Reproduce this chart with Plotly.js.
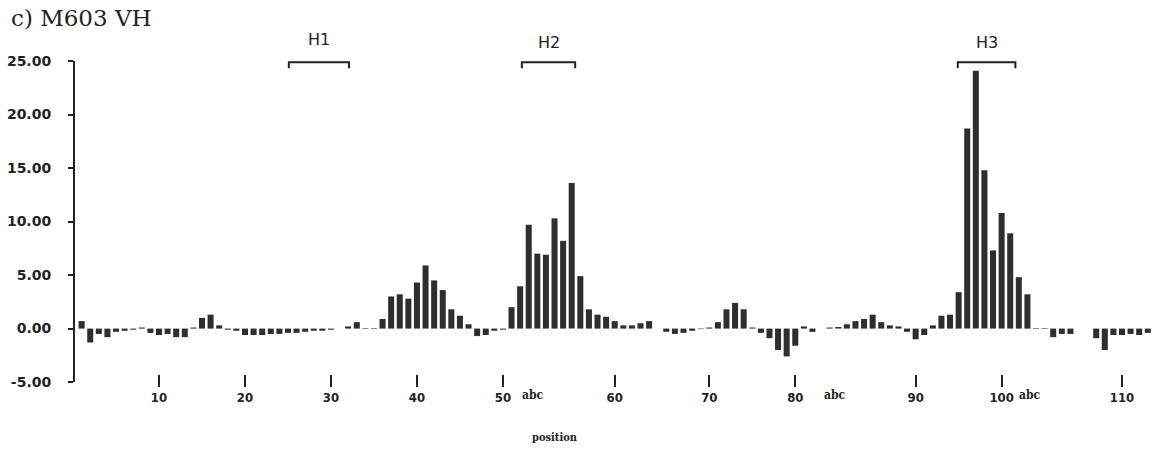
<!DOCTYPE html>
<html>
<head>
<meta charset="utf-8">
<script src="https://cdn.plot.ly/plotly-3.0.1.min.js"></script>
<style>html,body{margin:0;padding:0;background:#fff;}#chart{width:1172px;height:460px;}</style>
</head>
<body>
<div id="chart"></div>
<script>
// Residue positions (Kabat numbering); "" marks a break in the plotted sequence
const residues = [
  '1','2','3','4','5','6','7','8','9','10',
  '11','12','13','14','15','16','17','18','19','20',
  '21','22','23','24','25','26','27','28','29','30',
  '31','32','33','34','35','36','37','38','39','40',
  '41','42','43','44','45','46','47','48','49','50',
  '51','52','52a','52b','52c','53','54','55','56','57','58','59','60',
  '61','62','63','64','','65','66','67','68','69','70',
  '71','72','73','74','75','76','77','78','79','80',
  '81','82','','82a','82b','82c','83','84','85','86','87','88','89','90',
  '91','92','93','94','95','96','97','98','99','100','100a','100b','100c',
  '101','102','103','104','105','','106','107','108','109','110','111','112','113'
];
// Values (null = no bar)
const values = [
  0.7,-1.3,-0.5,-0.8,-0.3,-0.2,-0.1,0.1,-0.4,-0.6,
  -0.5,-0.8,-0.8,0.1,1.0,1.3,0.3,-0.1,-0.2,-0.6,
  -0.6,-0.6,-0.5,-0.5,-0.4,-0.4,-0.3,-0.2,-0.2,-0.1,
  null,0.2,0.6,0.05,0.05,0.9,3.0,3.2,2.8,4.3,
  5.9,4.5,3.6,1.8,1.2,0.4,-0.7,-0.6,-0.2,-0.1,
  2.0,3.95,9.7,7.0,6.9,10.3,8.2,13.6,4.9,1.8,1.3,1.1,0.7,
  0.3,0.3,0.5,0.7,null,-0.3,-0.5,-0.4,-0.2,-0.05,0.1,
  0.6,1.8,2.4,1.8,0.1,-0.4,-0.9,-2.0,-2.6,-1.6,
  0.2,-0.3,null,0.1,0.15,0.4,0.7,0.9,1.3,0.6,0.3,0.2,-0.3,-1.0,
  -0.6,0.3,1.2,1.3,3.4,18.7,24.1,14.8,7.3,10.8,8.9,4.8,3.2,
  0.05,0.05,-0.8,-0.5,-0.5,null,null,-0.9,-2.0,-0.6,-0.6,-0.5,-0.6,-0.4
];
const tickResidues = ['10','20','30','40','50','60','70','80','90','100','110'];
const insertionMarks = ['52b','82b','100b'];
const yTicks = [-5,0,5,10,15,20,25];
const regionNames = ['H1','H2','H3'];

const idx = residues.map((r,i)=>i);
const tickvals = tickResidues.map(r=>residues.indexOf(r));

const trace = {
  type:'bar', x: idx, y: values,
  marker:{color:'#2e2e2e'},
  hoverinfo:'skip'
};

// bracket extents (axis units) for the hypervariable regions
const spans = [[24.1,31.1],[51.2,57.4],[101.9,108.6]];
const abcShift = [-0.5,-0.4,1.3];

const shapes = [];
const annotations = [];
regionNames.forEach((name,i)=>{
  const [a,b] = spans[i];
  shapes.push({type:'path', xref:'x', yref:'paper',
    path:`M ${a} 0.978 L ${a} 0.996 L ${b} 0.996 L ${b} 0.978`,
    line:{color:'#222', width:2}});
  annotations.push({xref:'x', yref:'paper', x:(a+b)/2, y:i===0?1.065:1.057, yanchor:'middle',
    text:name, showarrow:false, font:{family:'DejaVu Sans', size:16, color:'#222'}});
});
insertionMarks.forEach((r,i)=>{
  annotations.push({xref:'x', yref:'paper', x:residues.indexOf(r)+abcShift[i], y:-0.015, yanchor:'middle',
    text:'<b>abc</b>', showarrow:false, font:{family:'DejaVu Serif Condensed', size:12, color:'#222'}});
});
annotations.push({xref:'paper', yref:'paper', x:0.439, y:-0.145, yanchor:'middle',
  text:'<b>position</b>', showarrow:false, font:{family:'DejaVu Serif Condensed', size:11, color:'#222'}});
annotations.push({xref:'paper', yref:'paper', xanchor:'left', x:-0.06, y:1.13, yanchor:'middle',
  text:'c) M603 VH', showarrow:false, font:{family:'DejaVu Serif', size:23, color:'#222'}});

const layout = {
  width:1172, height:460,
  margin:{l:75, r:4, t:61, b:70},
  paper_bgcolor:'#fff', plot_bgcolor:'#fff',
  showlegend:false,
  bargap:0.3,
  xaxis:{
    range:[-0.77, 126.35],
    tickvals: tickvals, ticktext: tickResidues,
    ticks:'outside', ticklen:12, tickwidth:2, tickcolor:'#222',
    showline:false, showgrid:false, zeroline:false,
    anchor:'free', position:0.05,
    ticklabelstandoff:0,
    tickfont:{family:'DejaVu Sans Condensed', size:13, color:'#222', weight:'bold'}
  },
  yaxis:{
    range:[-5,25], domain:[0.024,1],
    tickvals:yTicks, ticktext:yTicks.map(v=>v.toFixed(2)),
    ticks:'outside', ticklen:5, tickwidth:2, tickcolor:'#222',
    showline:true, linewidth:2, linecolor:'#222',
    showgrid:false, zeroline:false,
    ticklabelstandoff:14,
    tickfont:{family:'DejaVu Sans', size:14, color:'#222', weight:'bold'}
  },
  shapes:shapes, annotations:annotations
};

Plotly.newPlot('chart',[trace],layout,{displayModeBar:false, staticPlot:true});
</script>
</body>
</html>
